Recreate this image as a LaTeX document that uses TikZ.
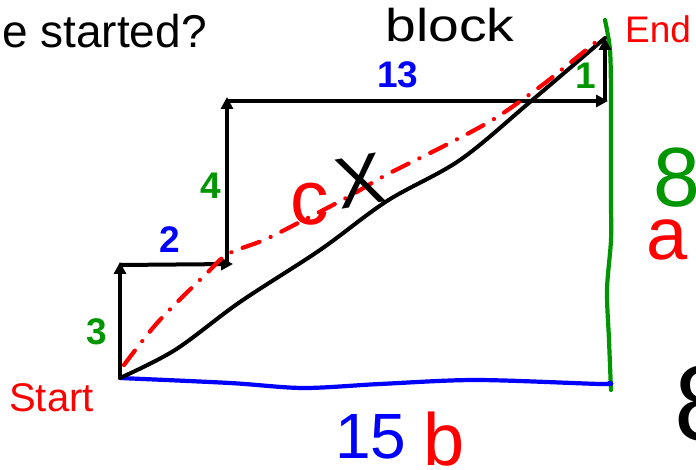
\documentclass[tikz,border=0pt]{standalone}
\usepackage{fontspec}
\usepackage{graphicx}
\setmainfont{Liberation Sans}
\usetikzlibrary{arrows.meta}
\definecolor{ggreen}{RGB}{0,150,0}
\definecolor{bblue}{RGB}{0,0,255}
\definecolor{rred}{RGB}{255,0,0}
\begin{document}
\begin{tikzpicture}[x=1pt,y=-1pt,
  stepline/.style={line width=4pt,-{Triangle[length=12pt,width=12pt]}},
  num/.style={font=\fontsize{37}{40}\selectfont\bfseries,inner sep=0pt,anchor=base},
  hand/.style={inner sep=0pt,anchor=base},
  pen/.style={line width=4.2pt,line cap=round,line join=round}]
\useasboundingbox (0,0) rectangle (696,470);
% corners of the staircase
\coordinate (S) at (120,378);
\coordinate (A) at (120,262);
\coordinate (A2) at (120,265);
\coordinate (B) at (233,264);
\coordinate (B2) at (227,265);
\coordinate (C) at (227,97);
\coordinate (C2) at (227,101);
\coordinate (D) at (608,101);
\coordinate (D2) at (605,101);
\coordinate (E) at (605,38);
\coordinate (G1) at (605,20);
\coordinate (G2) at (611,390);
\coordinate (BL) at (609,383);
% green and blue sides
\draw[pen,ggreen] plot[smooth] coordinates {(G1) (610,50) (611,100) (611,200) (611,240) (607,290) (609,340) (G2)};
\draw[pen,bblue] plot[smooth] coordinates {(S) (230,383) (303,388) (380,384) (476,380) (600,384) (BL)};
% staircase arrows
\draw[stepline] (S) -- (A);
\draw[stepline] (A2) -- (B);
\draw[stepline] (B2) -- (C);
\draw[stepline] (C2) -- (D);
\draw[stepline] (D2) -- (E);
% black curve
\draw[line width=4pt,line cap=round] plot[smooth,tension=0.55] coordinates {(S) (175,350) (240,302) (320,250) (387,201) (460,160) (530,102) (E)};
% red dashed
\draw[pen,rred,dash pattern=on 18pt off 12pt on 0.1pt off 12pt] plot[smooth,tension=0.55] coordinates {(124,365) (158,322) (207,273) (228,254) (264,240) (300,222) (348,197) (386,175) (444,146) (494,119) (537,89) (560,71) (602,37)};
% typed labels
\node[hand,anchor=base west,font=\fontsize{46}{50}\selectfont] (q) at (2,48) {e started?};
\node[hand,anchor=base west,text=rred,font=\fontsize{37}{40}\selectfont] (endl) at (625,43) {End};
\node[hand,anchor=base west,text=rred,font=\fontsize{40}{44}\selectfont] (startl) at (9,411) {Start};
\node[num,text=bblue] (n13) at (398,88) {13};
\node[num,text=bblue] (n2) at (170,253) {2};
\node[num,text=ggreen] (n3) at (97,344) {3};
\node[num,text=ggreen] (n4) at (211,199) {4};
\node[num,text=ggreen] (n1) at (586,89) {1};
% handwritten labels
\node[hand,font=\fontsize{46}{50}\selectfont] (blk) at (450,42) {\scalebox{1.2}[1]{block}};
\node[hand,text=rred,font=\fontsize{77}{80}\selectfont] (cl) at (310,225) {c};
\node[inner sep=0pt,font=\fontsize{72}{76}\selectfont\addfontfeatures{FakeBold=0}\fontseries{l},rotate=10] (xl) at (360,181) {X};
\node[hand,text=ggreen,font=\fontsize{84}{90}\selectfont] (g8) at (677,207) {8};
\node[hand,text=rred,font=\fontsize{74}{80}\selectfont] (al) at (667,260) {a};
\node[hand,font=\fontsize{107}{110}\selectfont] (k8) at (704,440) {8};
\node[hand,text=bblue,font=\fontsize{64}{70}\selectfont] (l15) at (371,458) {15};
\node[hand,text=rred,font=\fontsize{74}{80}\selectfont] (bl) at (444,465) {b};
\end{tikzpicture}
\end{document}
